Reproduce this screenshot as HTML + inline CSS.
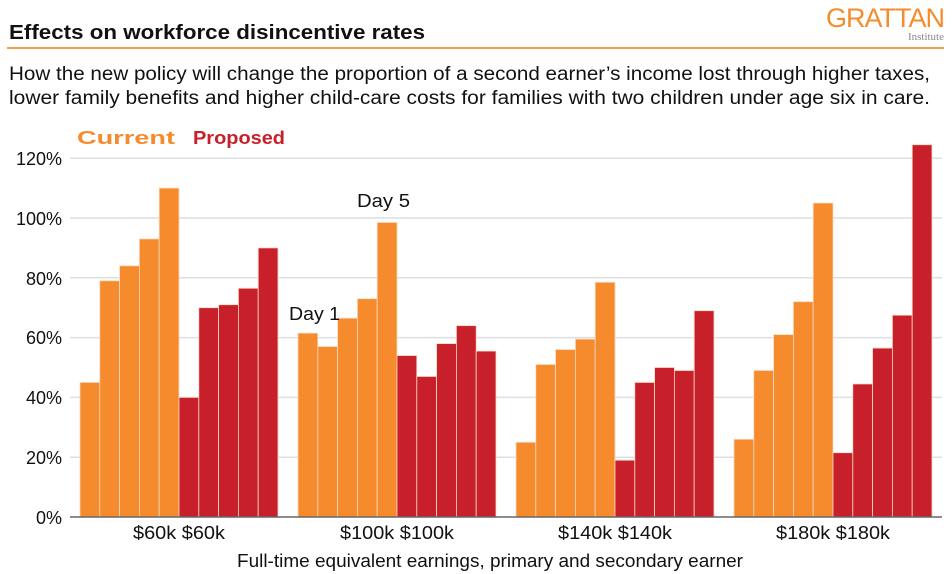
<!DOCTYPE html>
<html><head><meta charset="utf-8"><style>
body{margin:0;background:#fff;}
svg{display:block;font-family:"Liberation Sans",Arial,sans-serif;}
</style></head><body>
<svg id="s" width="952" height="574" viewBox="0 0 952 574" xmlns="http://www.w3.org/2000/svg">
<text x="9" y="39" font-size="20" font-weight="bold" fill="#111" textLength="416" lengthAdjust="spacingAndGlyphs">Effects on workforce disincentive rates</text>
<text x="944" y="27" font-size="27" fill="#f68b2d" text-anchor="end" letter-spacing="-1">GRATTAN</text>
<text x="944" y="40" font-size="11" fill="#888" text-anchor="end" font-family="Liberation Serif,serif">Institute</text>
<line x1="7" y1="48" x2="944" y2="48" stroke="#f6a04d" stroke-width="2"/>
<text x="9" y="80" font-size="19" fill="#111" textLength="921" lengthAdjust="spacingAndGlyphs">How the new policy will change the proportion of a second earner’s income lost through higher taxes,</text>
<text x="9" y="104" font-size="19" fill="#111" textLength="921" lengthAdjust="spacingAndGlyphs">lower family benefits and higher child-care costs for families with two children under age six in care.</text>
<text x="77" y="144" font-size="18" font-weight="bold" fill="#f68b2d" textLength="98" lengthAdjust="spacingAndGlyphs">Current</text>
<text x="193" y="144" font-size="18" font-weight="bold" fill="#c8202a" textLength="92" lengthAdjust="spacingAndGlyphs">Proposed</text>
<g id="grid" stroke="#dcdfe3" stroke-width="1.5"></g>
<g id="bars"></g>
<line x1="70" y1="517" x2="942" y2="517" stroke="#666" stroke-width="1.5"/>
<g font-size="18" fill="#111" text-anchor="end">
<text x="62" y="524">0%</text><text x="62" y="464">20%</text><text x="62" y="404">40%</text>
<text x="62" y="344">60%</text><text x="62" y="285">80%</text><text x="62" y="225">100%</text><text x="62" y="165">120%</text>
</g>
<g font-size="18" fill="#111">
<text x="133" y="539" textLength="92" lengthAdjust="spacingAndGlyphs">$60k $60k</text>
<text x="340" y="539" textLength="114" lengthAdjust="spacingAndGlyphs">$100k $100k</text>
<text x="558" y="539" textLength="114" lengthAdjust="spacingAndGlyphs">$140k $140k</text>
<text x="776" y="539" textLength="114" lengthAdjust="spacingAndGlyphs">$180k $180k</text>
<text x="237" y="567" textLength="506" lengthAdjust="spacingAndGlyphs">Full-time equivalent earnings, primary and secondary earner</text>
</g>
<text x="289" y="320" font-size="18" fill="#111" textLength="51" lengthAdjust="spacingAndGlyphs">Day 1</text>
<text x="357" y="207" font-size="18" fill="#111" textLength="53" lengthAdjust="spacingAndGlyphs">Day 5</text>
</svg>
<script>
var ns="http://www.w3.org/2000/svg";
var g=document.getElementById("grid");
for(var k=1;k<=6;k++){var y=517-k*59.8;var l=document.createElementNS(ns,"line");l.setAttribute("x1",70);l.setAttribute("x2",942);l.setAttribute("y1",y);l.setAttribute("y2",y);g.appendChild(l);}
var data=[[[45,79,84,93,110],[40,70,71,76.5,90]],[[61.5,57,66.5,73,98.5],[54,47,58,64,55.5]],[[25,51,56,59.5,78.5],[19,45,50,49,69]],[[26,49,61,72,105],[21.5,44.5,56.5,67.5,124.5]]];
var b=document.getElementById("bars");var w=19.8;
for(var gi=0;gi<4;gi++){var x0=80+218*gi;
for(var s=0;s<2;s++){for(var i=0;i<5;i++){var v=data[gi][s][i];var h=v*2.99;var r=document.createElementNS(ns,"rect");
r.setAttribute("x",x0+(s*5+i)*w);r.setAttribute("y",517-h);r.setAttribute("width",w);r.setAttribute("height",h);
r.setAttribute("fill",s?"#c8202a":"#f68b2d");r.setAttribute("stroke","#f9d9c0");r.setAttribute("stroke-width","0.8");b.appendChild(r);}}}
</script>
</body></html>
